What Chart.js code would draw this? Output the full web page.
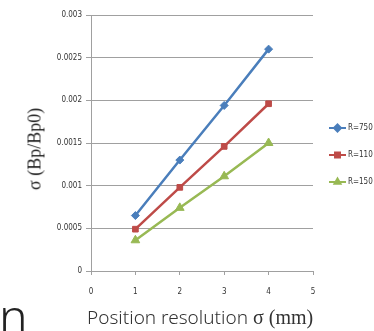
<!DOCTYPE html>
<html>
<head>
<meta charset="utf-8">
<script src="https://cdn.jsdelivr.net/npm/chart.js@4/dist/chart.umd.min.js"></script>
<style>
  body { margin: 0; background: #fff; }
  #wrap { position: relative; width: 374px; height: 331px; overflow: hidden; }
  canvas { position: absolute; left: 0; top: 0; }
  .ytitle { position: absolute; left: 35px; top: 149px; transform: translate(-50%, -50%) rotate(-90deg);
    font: 18px "Liberation Serif", serif; color: #222; white-space: nowrap; }
  .xtitle { position: absolute; left: 87px; top: 304px; font: 300 19px "Noto Sans", sans-serif; color: #333; white-space: nowrap; }
  .xtitle span { font-family: "Liberation Serif", serif; font-weight: 400; font-size: 20px; }
  .stray { position: absolute; left: -1px; top: 283px; font: 300 48px "Noto Sans", sans-serif; color: #222; }
</style>
</head>
<body>
<div id="wrap">
  <canvas id="grafico" width="374" height="331"></canvas>
  <div class="ytitle">σ (Bp/Bp0)</div>
  <div class="xtitle">Position resolution <span>σ (mm)</span></div>
  <div class="stray">n</div>
</div>
<script>
// ==================== DATOS ====================
const posiciones = [1, 2, 3, 4];
const series = ['R=750', 'R=110', 'R=150'];
const r750 = [0.00065, 0.0013, 0.00194, 0.0026];
const r110 = [0.00049, 0.00098, 0.00146, 0.00196];
const r150 = [0.00036, 0.00074, 0.00111, 0.0015];
const colores = ['#4a7ebb', '#be4b48', '#98b954'];
const estilos = ['rectRot', 'rect', 'triangle'];

const valores = [r750, r110, r150];
const datasets = series.map((nombre, i) => ({
  label: nombre,
  data: posiciones.map((x, j) => ({ x: x, y: valores[i][j] })),
  borderColor: colores[i],
  backgroundColor: colores[i],
  borderWidth: 2.5,
  pointStyle: estilos[i],
  pointRadius: i === 2 ? 5 : 4,
  pointBorderWidth: 1,
  tension: 0
}));

// ==================== LEYENDA ====================
const leyenda = {
  id: 'leyenda',
  afterDraw(chart) {
    const ctx = chart.ctx;
    chart.data.datasets.forEach((ds, i) => {
      const y = 128 + i * 27;
      ctx.save();
      ctx.strokeStyle = ds.borderColor;
      ctx.fillStyle = ds.backgroundColor;
      ctx.lineWidth = 2;
      ctx.beginPath();
      ctx.moveTo(329, y);
      ctx.lineTo(346, y);
      ctx.stroke();
      Chart.helpers.drawPoint(ctx, { pointStyle: ds.pointStyle, radius: 3.5, rotation: 0, borderWidth: 1 }, 337.5, y);
      ctx.fillStyle = '#333';
      ctx.font = '8px "Liberation Sans Narrow", "DejaVu Sans Condensed", sans-serif';
      ctx.textBaseline = 'middle';
      ctx.fillText(ds.label, 348, y);
      ctx.restore();
    });
  }
};

const fuenteTicks = { family: '"Liberation Sans Narrow", "DejaVu Sans Condensed", sans-serif', size: 8 };

// ==================== GRÁFICO ====================
new Chart(document.getElementById('grafico'), {
  type: 'line',
  data: { datasets: datasets },
  options: {
    responsive: false,
    animation: false,
    layout: { padding: { top: 15, right: 61, left: 0, bottom: 0 } },
    plugins: { legend: { display: false }, tooltip: { enabled: false } },
    scales: {
      x: {
        type: 'linear',
        min: 0, max: 5,
        ticks: { stepSize: 1, color: '#333', font: fuenteTicks, padding: 12 },
        grid: { drawOnChartArea: false, drawTicks: true, tickLength: 4, color: '#a0a0a0' },
        border: { color: '#a0a0a0' },
        afterFit(scale) { scale.height = 60; }
      },
      y: {
        min: 0, max: 0.003,
        ticks: {
          stepSize: 0.0005, color: '#333', font: fuenteTicks, padding: 4,
          callback: v => String(Number(v.toFixed(4)))
        },
        grid: { color: '#a0a0a0', lineWidth: 1, tickLength: 5 },
        border: { color: '#a0a0a0' },
        afterFit(scale) { scale.width = 91; }
      }
    }
  },
  plugins: [leyenda]
});
</script>
</body>
</html>
